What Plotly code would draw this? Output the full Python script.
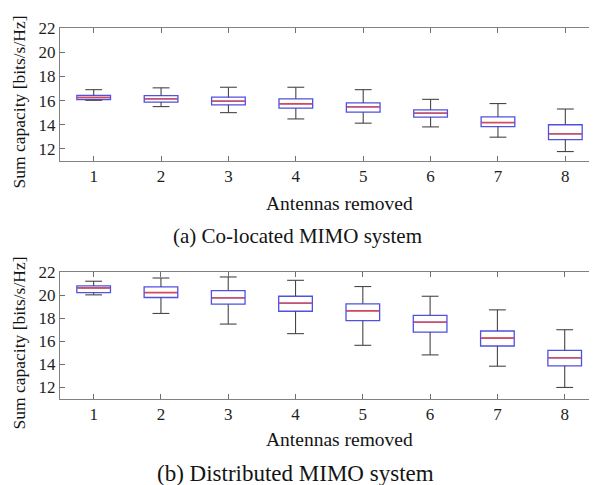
import plotly.graph_objects as go

antennas = [1, 2, 3, 4, 5, 6, 7, 8]

# (a) Co-located MIMO system
upper_a = [16.90, 17.05, 17.10, 17.10, 16.90, 16.10, 15.75, 15.30]
q3_a = [16.42, 16.40, 16.28, 16.14, 15.80, 15.23, 14.65, 14.00]
med_a = [16.25, 16.14, 15.95, 15.73, 15.48, 14.96, 14.18, 13.24]
q1_a = [16.08, 15.87, 15.65, 15.37, 15.04, 14.63, 13.85, 12.77]
lower_a = [16.02, 15.50, 15.00, 14.48, 14.13, 13.82, 12.97, 11.78]

# (b) Distributed MIMO system
upper_b = [21.20, 21.48, 21.57, 21.28, 20.74, 19.90, 18.72, 17.00]
q3_b = [20.79, 20.71, 20.39, 19.90, 19.24, 18.24, 16.89, 15.22]
med_b = [20.62, 20.22, 19.76, 19.30, 18.64, 17.66, 16.28, 14.56]
q1_b = [20.22, 19.79, 19.21, 18.60, 17.78, 16.80, 15.59, 13.87]
lower_b = [20.02, 18.41, 17.49, 16.66, 15.65, 14.82, 13.84, 12.00]

y_ticks = [12, 14, 16, 18, 20, 22]
x_title = "Antennas removed"
y_title = "Sum capacity [bits/s/Hz]"
captions = ["(a) Co-located MIMO system", "(b) Distributed MIMO system"]

BOX_W = 0.5
CAP_W = 0.25
BLUE = "rgb(80,80,225)"
RED = "rgb(225,70,70)"
WHISK = "rgb(70,70,70)"
FONT = "Liberation Serif, Times New Roman, DejaVu Serif, serif"

# page body has an 8px default margin: map reference pixels onto the figure
OFF = 8
W, H = 597 - OFF, 485 - OFF
def px(X):
    return (X - OFF) / W
def py(Y):
    return 1 - (Y - OFF) / H

fig = go.Figure()

def add_panel(fig, upper, q3, med, q1, lower, xa, ya):
    fig.add_trace(go.Box(
        x=antennas, q1=q1, median=med, q3=q3, lowerfence=q1, upperfence=q3,
        width=BOX_W, whiskerwidth=0, fillcolor="rgba(255,255,255,0)",
        line=dict(color=BLUE, width=1.3), xaxis=xa, yaxis=ya,
        showlegend=False, hoverinfo="skip"))
    wx, wy, cx, cy, mx, my = [], [], [], [], [], []
    for i, x in enumerate(antennas):
        wx += [x, x, None, x, x, None]
        wy += [q3[i], upper[i], None, q1[i], lower[i], None]
        cx += [x - CAP_W / 2, x + CAP_W / 2, None, x - CAP_W / 2, x + CAP_W / 2, None]
        cy += [upper[i], upper[i], None, lower[i], lower[i], None]
        mx += [x - BOX_W / 2 + 0.01, x + BOX_W / 2 - 0.01, None]
        my += [med[i], med[i], None]
    fig.add_trace(go.Scatter(x=wx, y=wy, mode="lines", line=dict(color=WHISK, width=1.1),
                             xaxis=xa, yaxis=ya, showlegend=False, hoverinfo="skip"))
    fig.add_trace(go.Scatter(x=cx, y=cy, mode="lines", line=dict(color=WHISK, width=1.1),
                             xaxis=xa, yaxis=ya, showlegend=False, hoverinfo="skip"))
    fig.add_trace(go.Scatter(x=mx, y=my, mode="lines", line=dict(color=RED, width=1.4),
                             xaxis=xa, yaxis=ya, showlegend=False, hoverinfo="skip"))

add_panel(fig, upper_a, q3_a, med_a, q1_a, lower_a, "x", "y")
add_panel(fig, upper_b, q3_b, med_b, q1_b, lower_b, "x2", "y2")

axis_common = dict(
    showline=True, linecolor="rgb(130,130,130)", linewidth=1, mirror="allticks",
    ticks="inside", ticklen=5, tickcolor="rgb(110,110,110)", showgrid=False, zeroline=False,
    tickfont=dict(family=FONT, size=17, color="rgb(30,30,30)"), automargin=False,
)

xdom = [px(60), 1.0]
fig.update_layout(
    width=W, height=H, margin=dict(l=0, r=0, t=0, b=0, autoexpand=False),
    paper_bgcolor="white", plot_bgcolor="white",
    xaxis=dict(domain=xdom, range=[0.5, 8.47], tickvals=antennas, anchor="y", **axis_common),
    yaxis=dict(domain=[py(161), py(28)], range=[11, 22], tickvals=y_ticks, anchor="x",
               **axis_common),
    xaxis2=dict(domain=xdom, range=[0.5, 8.48], tickvals=antennas, anchor="y2", **axis_common),
    yaxis2=dict(domain=[py(399), py(272)], range=[11, 22], tickvals=y_ticks, anchor="x2",
                **axis_common),
    font=dict(family=FONT, color="rgb(20,20,20)"),
)

ann = []
for (yc_xt, yc_cap, cap, cap_x, cap_size, ymid) in [
    (203, 236, captions[0], 297, 21, (28 + 161) / 2),
    (439, 473, captions[1], 295, 23, (272 + 399) / 2),
]:
    ann.append(dict(text=x_title, x=px(339), y=py(yc_xt), xref="paper", yref="paper",
                    showarrow=False, font=dict(family=FONT, size=19.5, color="rgb(20,20,20)"),
                    xanchor="center", yanchor="middle"))
    ann.append(dict(text=cap, x=px(cap_x), y=py(yc_cap), xref="paper", yref="paper",
                    showarrow=False, font=dict(family=FONT, size=cap_size, color="rgb(20,20,20)"),
                    xanchor="center", yanchor="middle"))
    ann.append(dict(text=y_title, x=px(18), y=py(ymid + 8), xref="paper", yref="paper",
                    showarrow=False, textangle=-90,
                    font=dict(family=FONT, size=17.5, color="rgb(20,20,20)"),
                    xanchor="center", yanchor="middle"))
fig.update_layout(annotations=ann)

fig.write_html("out.html")
